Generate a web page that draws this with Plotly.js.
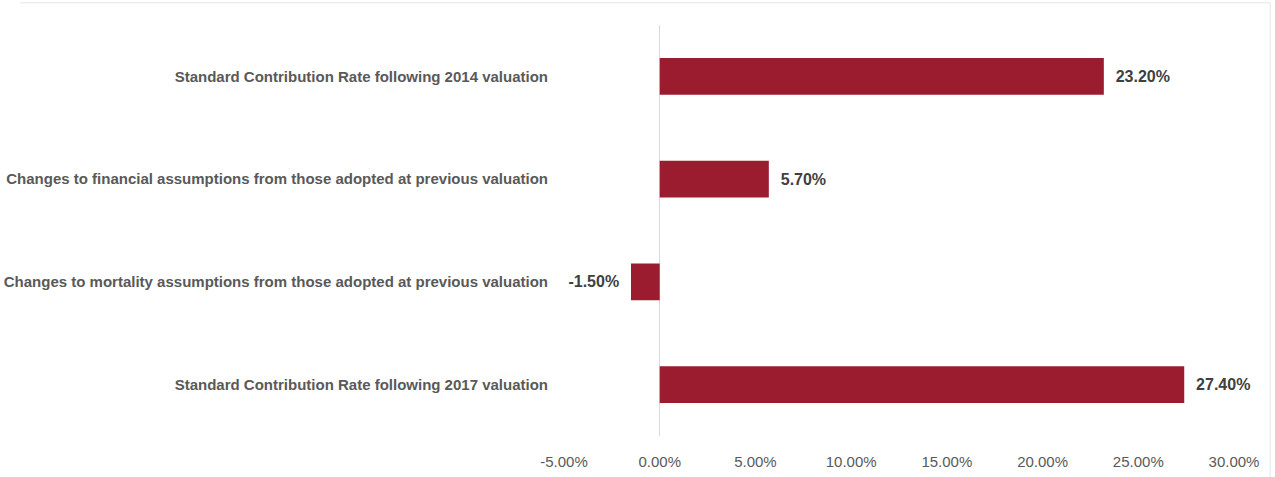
<!DOCTYPE html>
<html>
<head>
<meta charset="utf-8">
<script src="https://cdn.plot.ly/plotly-3.0.1.min.js"></script>
<style>
  html, body { margin: 0; padding: 0; background: #fff; }
  #chart { width: 1275px; height: 477px; }
</style>
</head>
<body>
<div id="chart"></div>
<script>
// Category labels, top to bottom as drawn
var categories = [
    'Standard Contribution Rate following 2014 valuation',
    'Changes to financial assumptions from those adopted at previous valuation',
    'Changes to mortality assumptions from those adopted at previous valuation',
    'Standard Contribution Rate following 2017 valuation'
];
var rates = [23.2, 5.7, -1.5, 27.4]; // percent
var xTicks = [-5, 0, 5, 10, 15, 20, 25, 30];

var labelFont = 'Liberation Sans Narrow, Arial Narrow, sans-serif';
var nb = '\u00a0\u00a0';

// plotly draws the first category at the bottom, so flip
var yCats = categories.slice().reverse();
var xVals = rates.slice().reverse();

Plotly.newPlot('chart', [{
    type: 'bar',
    orientation: 'h',
    x: xVals,
    y: yCats,
    width: 0.36,
    marker: {color: '#9b1c2e'},
    // pad the labels a little away from the bar ends
    text: xVals.map(function (v) {
        var s = v.toFixed(2) + '%';
        return v < 0 ? s + nb : nb + s;
    }),
    textposition: 'outside',
    cliponaxis: false,
    textfont: {family: labelFont, size: 16, color: '#404040', weight: 'bold'},
    hoverinfo: 'x+y'
}], {
    width: 1275,
    height: 477,
    margin: {l: 564, r: 41, t: 25, b: 41},
    paper_bgcolor: '#fff',
    plot_bgcolor: '#fff',
    showlegend: false,
    xaxis: {
        range: [-5, 30],
        tickvals: xTicks,
        ticktext: xTicks.map(function (v) { return v.toFixed(2) + '%'; }),
        showgrid: false,
        zeroline: true,
        zerolinecolor: '#d9d9d9',
        zerolinewidth: 1,
        showline: false,
        ticks: 'outside',
        ticklen: 12,
        tickcolor: 'rgba(0,0,0,0)',
        tickfont: {family: labelFont, size: 15, color: '#595959'}
    },
    yaxis: {
        showgrid: false,
        zeroline: false,
        showline: false,
        ticks: 'outside',
        ticklen: 12,
        tickcolor: 'rgba(0,0,0,0)',
        tickfont: {family: labelFont, size: 15, color: '#595959', weight: 'bold'}
    },
    shapes: [{
        type: 'rect',
        xref: 'paper', yref: 'paper',
        x0: -0.9, x1: 1.054, y0: -0.2, y1: 1.054,
        line: {color: '#e6e6e6', width: 1}
    }, {
        // top edge of the frame starts a little in from the page edge
        type: 'rect',
        xref: 'paper', yref: 'paper',
        x0: -0.9, x1: -0.812, y0: 1.04, y1: 1.07,
        fillcolor: '#fff',
        line: {width: 0}
    }]
}, {displayModeBar: false});
</script>
</body>
</html>
